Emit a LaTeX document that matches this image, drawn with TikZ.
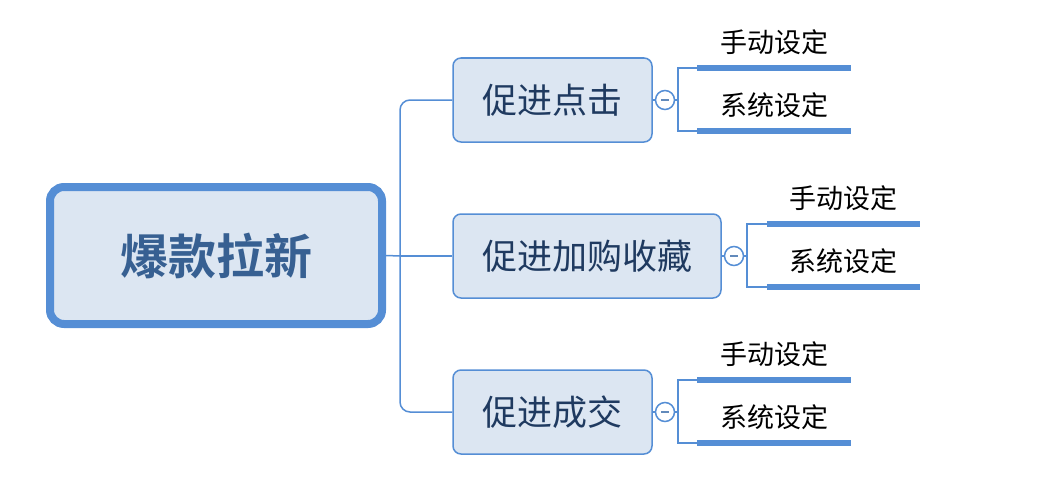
\documentclass[tikz,border=0pt]{standalone}
\usepackage{fontspec}
\usetikzlibrary{calc}
\newfontfamily\cjk{Noto Sans CJK SC}
\newfontfamily\cjkb{Noto Sans CJK SC Bold}
\definecolor{bl}{HTML}{558ED5}
\definecolor{fillc}{HTML}{DCE6F2}
\definecolor{roottxt}{HTML}{376092}
\definecolor{childtxt}{HTML}{1F3A60}
\begin{document}
\begin{tikzpicture}[x=1pt,y=-1pt,
  rootbox/.style={draw=bl,line width=8pt,fill=fillc,rounded corners=14pt,minimum width=332pt,minimum height=137pt,inner sep=0pt,font=\cjkb\fontsize{48}{50}\selectfont,text=roottxt},
  childbox/.style={draw=bl,line width=1.5pt,fill=fillc,rounded corners=8pt,minimum height=84pt,inner sep=0pt,font=\cjk\fontsize{35}{38}\selectfont,text=childtxt},
  leaftxt/.style={font=\cjk\fontsize{27}{29}\selectfont,text=black,inner sep=0pt},
  conn/.style={draw=bl,line width=1.5pt},
  leafline/.style={draw=bl,line width=5.5pt},
  knob/.style={circle,draw=bl,line width=1.5pt,fill=white,minimum size=19pt,inner sep=0pt}]
\useasboundingbox (0,0) rectangle (1056,503);
\node[rootbox] (root) at (216,255.5) {爆款拉新};
\node[childbox,minimum width=199pt] (c1) at (552.5,100) {促进点击};
\node[childbox,minimum width=268pt] (c2) at (587,256) {促进加购收藏};
\node[childbox,minimum width=199pt] (c3) at (552.5,412) {促进成交};
\coordinate (j) at (400,256);
\draw[conn] (root.east) -- (j);
\draw[conn,rounded corners=10pt] (c1.west) -| (j) |- (c3.west);
\draw[conn] (j) -- (c2.west);
% leaves
\foreach \c/\kx/\vx/\la/\lb/\cy in {c1/665/678/697/851/100, c2/734/747/767/920/256, c3/665/678/697/851/412}{
  \node[knob] (k\c) at (\kx,\cy) {};
  \draw[line width=1.5pt,draw=bl!70!gray] ([xshift=-4pt]k\c.center) -- ([xshift=4pt]k\c.center);
  \draw[conn] (\c.east) -- (k\c.west);
  \coordinate (t\c) at (\vx,\cy-32);
  \coordinate (b\c) at (\vx,\cy+31);
  \coordinate (ta\c) at (\la,\cy-32);
  \coordinate (tb\c) at (\lb,\cy-32);
  \coordinate (ba\c) at (\la,\cy+31);
  \coordinate (bb\c) at (\lb,\cy+31);
  \draw[conn] (k\c.east) -- (\vx,\cy);
  \draw[conn] (ta\c) -- (t\c) -- (b\c) -- (ba\c);
  \draw[leafline] (ta\c) -- (tb\c);
  \draw[leafline] (ba\c) -- (bb\c);
  \node[leaftxt] (m\c) at ($(ta\c)!0.5!(tb\c)+(0,-26)$) {手动设定};
  \node[leaftxt] (s\c) at ($(ba\c)!0.5!(bb\c)+(0,-26)$) {系统设定};
}
\end{tikzpicture}
\end{document}
